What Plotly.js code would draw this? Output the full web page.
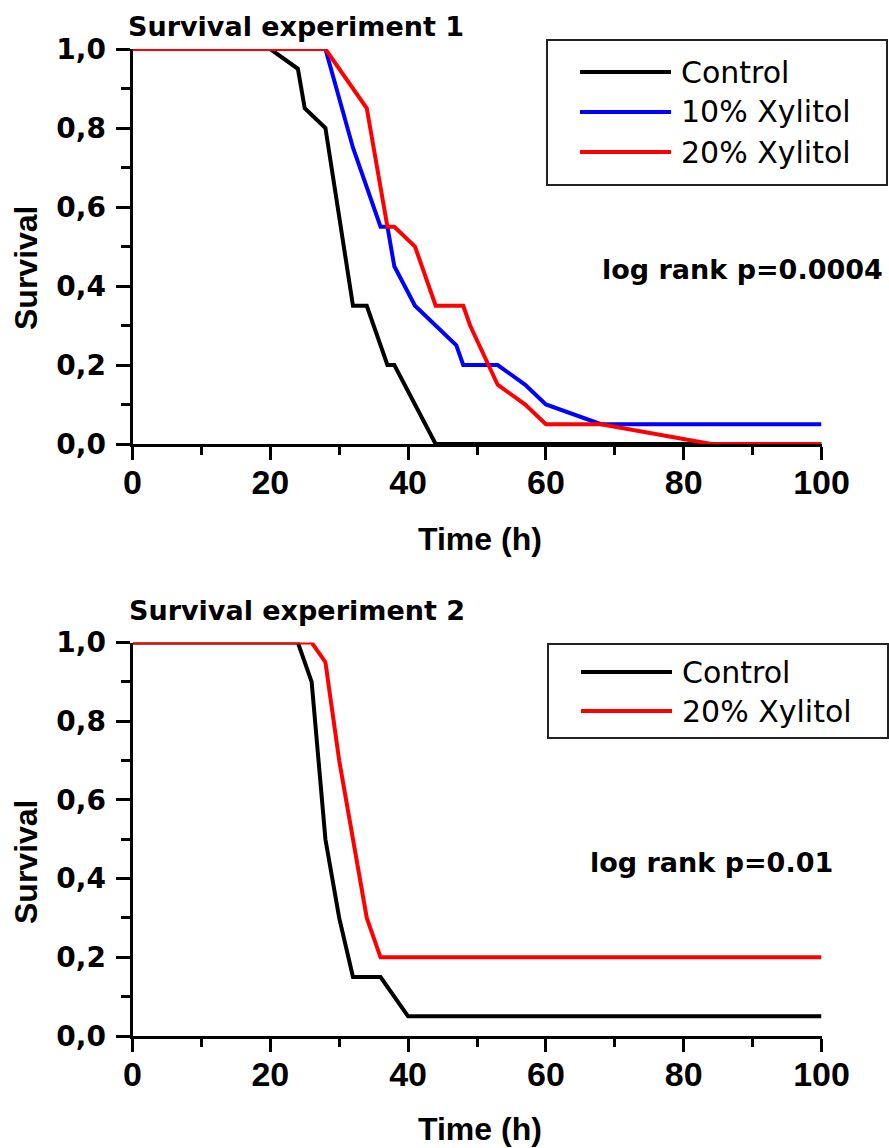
<!DOCTYPE html>
<html>
<head>
<meta charset="utf-8">
<script src="https://cdn.plot.ly/plotly-3.0.1.min.js"></script>
<style>html,body{margin:0;padding:0;background:#fff;}#chart{width:889px;height:1148px;}</style>
</head>
<body>
<div id="chart"></div>
<script>
// ---- Experiment 1 data ----
const exp1ControlT = [0, 20, 24, 25, 28, 32, 34, 37, 38, 44, 100];
const exp1ControlS = [1, 1, 0.95, 0.85, 0.8, 0.35, 0.35, 0.2, 0.2, 0, 0];
const exp1X10T = [0, 28, 32, 36, 37, 38, 41, 47, 48, 53, 57, 60, 68, 100];
const exp1X10S = [1, 1, 0.75, 0.55, 0.55, 0.45, 0.35, 0.25, 0.2, 0.2, 0.15, 0.1, 0.05, 0.05];
const exp1X20T = [0, 28, 34, 37, 38, 41, 44, 48, 49, 53, 57, 60, 68, 84, 100];
const exp1X20S = [1, 1, 0.85, 0.55, 0.55, 0.5, 0.35, 0.35, 0.3, 0.15, 0.1, 0.05, 0.05, 0, 0];
// ---- Experiment 2 data ----
const exp2ControlT = [0, 24, 26, 28, 30, 32, 36, 40, 100];
const exp2ControlS = [1, 1, 0.9, 0.5, 0.3, 0.15, 0.15, 0.05, 0.05];
const exp2X20T = [0, 26, 28, 30, 34, 36, 100];
const exp2X20S = [1, 1, 0.95, 0.7, 0.3, 0.2, 0.2];

// ---- labels ----
const seriesNames1 = ["Control", "10% Xylitol", "20% Xylitol"];
const seriesNames2 = ["Control", "20% Xylitol"];
const seriesColors1 = ["#000000", "#0000ff", "#ff0000"];
const seriesColors2 = ["#000000", "#ff0000"];
const panelTitles = ["Survival experiment 1", "Survival experiment 2"];
const pValues = ["log rank p=0.0004", "log rank p=0.01"];
const xTitle = "Time (h)";
const yTitle = "Survival";
const yTickVals = [0, 0.2, 0.4, 0.6, 0.8, 1.0];
const yTickText = ["0,0", "0,2", "0,4", "0,6", "0,8", "1,0"];
const xTickVals = [0, 20, 40, 60, 80, 100];
const xTickText = ["0", "20", "40", "60", "80", "100"];

const W = 889, H = 1148;
const px = v => v / W;
const py = v => 1 - v / H;

const LW = 4;
function tr(x, y, color, xa, ya, name) {
  return {x: x, y: y, type: 'scatter', mode: 'lines', name: name,
    line: {color: color, width: LW, shape: 'linear'}, xaxis: xa, yaxis: ya,
    showlegend: false, hoverinfo: 'skip'};
}
const data = [
  tr(exp1ControlT, exp1ControlS, seriesColors1[0], 'x', 'y', seriesNames1[0]),
  tr(exp1X10T, exp1X10S, seriesColors1[1], 'x', 'y', seriesNames1[1]),
  tr(exp1X20T, exp1X20S, seriesColors1[2], 'x', 'y', seriesNames1[2]),
  tr(exp2ControlT, exp2ControlS, seriesColors2[0], 'x2', 'y2', seriesNames2[0]),
  tr(exp2X20T, exp2X20S, seriesColors2[1], 'x2', 'y2', seriesNames2[1])
];

const boldTick = {family: 'Liberation Sans, Arial, sans-serif', size: 34, color: '#000', weight: 'bold'};
const boldYTick = {family: 'DejaVu Sans, sans-serif', size: 28, color: '#000', weight: 'bold'};

function xax(anchor) {
  return {domain: [px(132.5), px(821.5)], range: [0, 100], anchor: anchor,
    showline: true, linecolor: '#000', linewidth: 3, mirror: false,
    showgrid: false, zeroline: false,
    ticks: 'outside', ticklen: 13, tickwidth: 3, tickcolor: '#000',
    tickmode: 'array', tickvals: xTickVals, ticktext: xTickText,
    tickfont: boldTick, layer: 'below traces', ticklabelstandoff: -7,
    minor: {ticks: 'outside', ticklen: 8, tickwidth: 3, tickcolor: '#000', dtick: 10, tick0: 0, showgrid: false},
    fixedrange: true};
}
function yax(anchor, top, bottom) {
  return {domain: [py(bottom), py(top)], range: [0, 1], anchor: anchor,
    showline: true, linecolor: '#000', linewidth: 3, mirror: false,
    showgrid: false, zeroline: false,
    ticks: 'outside', ticklen: 14, tickwidth: 3, tickcolor: '#000',
    tickmode: 'array', tickvals: yTickVals, ticktext: yTickText,
    tickfont: boldYTick, layer: 'below traces', ticklabelstandoff: 4,
    minor: {ticks: 'outside', ticklen: 9, tickwidth: 3, tickcolor: '#000', dtick: 0.1, tick0: 0, showgrid: false},
    fixedrange: true};
}

const titleFont = {family: 'DejaVu Sans, sans-serif', size: 27, color: '#000', weight: 'bold'};
const axTitleFont = {family: 'Liberation Sans, Arial, sans-serif', size: 32, color: '#000', weight: 'bold'};
const legFont = {family: 'DejaVu Sans, sans-serif', size: 30, color: '#000'};

const annotations = [];
const shapes = [];
function ann(text, x, y, font, xanchor, extra) {
  annotations.push(Object.assign({text: text, x: px(x), y: py(y), xref: 'paper', yref: 'paper',
    xanchor: xanchor, yanchor: 'middle', showarrow: false, font: font}, extra || {}));
}
// panel titles
ann(panelTitles[0], 126, 27, titleFont, 'left');
ann(panelTitles[1], 127, 610, titleFont, 'left');
// p values
ann(pValues[0], 600, 270, titleFont, 'left');
ann(pValues[1], 588, 862, titleFont, 'left');
// axis titles
ann(xTitle, 480, 539, axTitleFont, 'center');
ann(xTitle, 480, 1129, axTitleFont, 'center');
ann(yTitle, 26, 268, axTitleFont, 'center', {textangle: -90});
ann(yTitle, 26, 862, axTitleFont, 'center', {textangle: -90});

// legends (drawn manually)
function legend(x0, y0, x1, y1, rows, names, colors) {
  shapes.push({type: 'rect', xref: 'paper', yref: 'paper', x0: px(x0), x1: px(x1), y0: py(y1), y1: py(y0),
    line: {color: '#222', width: 2}, fillcolor: 'rgba(0,0,0,0)'});
  names.forEach((n, i) => {
    shapes.push({type: 'line', xref: 'paper', yref: 'paper', x0: px(x0 + 33), x1: px(x0 + 124),
      y0: py(rows[i]), y1: py(rows[i]), line: {color: colors[i], width: 4}});
    ann(n, x0 + 132, rows[i], legFont, 'left');
  });
}
legend(547, 40, 887, 185, [72, 112, 152], seriesNames1, seriesColors1);
legend(548, 644, 888, 738, [672, 711], seriesNames2, seriesColors2);

const layout = {
  width: W, height: H,
  margin: {l: 0, r: 0, t: 0, b: 0, pad: 0},
  paper_bgcolor: '#fff', plot_bgcolor: '#fff',
  showlegend: false,
  xaxis: xax('y'), yaxis: yax('x', 49, 444),
  xaxis2: xax('y2'), yaxis2: yax('x2', 642.5, 1036),
  annotations: annotations, shapes: shapes
};
Plotly.newPlot('chart', data, layout, {displayModeBar: false, staticPlot: true});
</script>
</body>
</html>
